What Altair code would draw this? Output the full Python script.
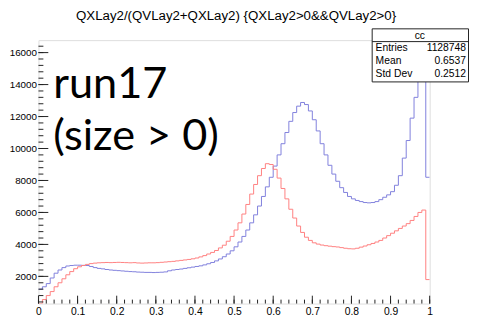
import altair as alt
import pandas as pd

# ---- data ----
bin_width = 0.01
blue_counts = [
    1200, 1350, 1550, 1900, 2200, 2400, 2550, 2650, 2680, 2700,
    2700, 2690, 2680, 2620, 2550, 2500, 2470, 2430, 2400, 2380,
    2360, 2340, 2320, 2300, 2290, 2270, 2260, 2250, 2250, 2240,
    2250, 2260, 2280, 2350, 2400, 2430, 2460, 2500, 2540, 2580,
    2620, 2660, 2720, 2790, 2870, 2970, 3090, 3230, 3400, 3600,
    3850, 4150, 4500, 4900, 5350, 5850, 6400, 7000, 7600, 8200,
    8900, 9600, 10300, 11000, 11700, 12250, 12650, 12880, 12750, 12350,
    11800, 11100, 10300, 9600, 8950, 8400, 7950, 7550, 7250, 7000,
    6850, 6750, 6680, 6620, 6600, 6620, 6680, 6800, 6950, 7100,
    7300, 7700, 8300, 9400, 10500, 11900, 13200, 14600, 16000, 8200,
]
red_counts = [
    300, 550, 800, 1050, 1350, 1600, 1850, 2100, 2300, 2480,
    2600, 2680, 2750, 2800, 2830, 2850, 2860, 2870, 2860, 2870,
    2880, 2870, 2860, 2850, 2860, 2840, 2830, 2840, 2850, 2850,
    2860, 2880, 2900, 2920, 2940, 2970, 3000, 3030, 3060, 3100,
    3150, 3220, 3300, 3400, 3500, 3620, 3780, 3950, 4200, 4500,
    4900, 5350, 5900, 6500, 7150, 7750, 8300, 8750, 9050, 9000,
    8700, 8150, 7500, 6850, 6200, 5650, 5150, 4750, 4450, 4250,
    4100, 4020, 3960, 3920, 3890, 3860, 3840, 3800, 3760, 3730,
    3720, 3760, 3830, 3900, 3980, 4060, 4150, 4250, 4400, 4550,
    4700, 4850, 5000, 5150, 5300, 5500, 5750, 6000, 6150, 1800,
]
x_major_ticks = [0, 0.1, 0.2, 0.3, 0.4, 0.5, 0.6, 0.7, 0.8, 0.9, 1.0]
x_minor_ticks = [round(i * 0.02, 2) for i in range(51)]
y_major_ticks = [2000, 4000, 6000, 8000, 10000, 12000, 14000, 16000]
y_minor_ticks = [400 * i for i in range(1, 42)]
stats_labels = ["Entries", "Mean", "Std Dev"]
stats_values = ["1128748", "0.6537", "0.2512"]
title_text = "QXLay2/(QVLay2+QXLay2) {QXLay2>0&&QVLay2>0}"

# ---- layout ----
W, H = 398, 268
Y_MIN, Y_MAX = 300, 16780
FONT = "Liberation Sans"


def step_frame(counts):
    n = len(counts)
    xs = [round(i * bin_width, 4) for i in range(n)] + [1.0]
    ys = list(counts) + [counts[-1]]
    return pd.DataFrame({"x": xs, "y": ys})


xscale = alt.Scale(domain=[0, 1], nice=False, zero=False)
yscale = alt.Scale(domain=[Y_MIN, Y_MAX], nice=False, zero=False)

x_axis = alt.Axis(values=x_major_ticks, format=".1~f", title=None, domain=False,
                  ticks=False, grid=False, labelFont=FONT, labelFontSize=10.5,
                  labelColor="black", labelPadding=3, labelOverlap=False,
                  labelFlush=False)
y_axis = alt.Axis(values=y_major_ticks, format="d", title=None, domain=False,
                  ticks=False, grid=False, labelFont=FONT, labelFontSize=10,
                  labelColor="black", labelPadding=2, labelOverlap=False)


def X(field):
    return alt.X(field, scale=xscale, axis=x_axis)


def Y(field):
    return alt.Y(field, scale=yscale, axis=y_axis)


blue = alt.Chart(step_frame(blue_counts)).mark_line(
    interpolate="step-after", color="#7f7fdc", strokeWidth=1, clip=True
).encode(x=X("x:Q"), y=Y("y:Q"))

red = alt.Chart(step_frame(red_counts)).mark_line(
    interpolate="step-after", color="#ff7f7f", strokeWidth=1, clip=True
).encode(x=X("x:Q"), y=Y("y:Q"))

tick_color = "#222222"
xmaj = alt.Chart(pd.DataFrame({"t": x_major_ticks})).mark_rule(color=tick_color, strokeWidth=1).encode(
    x=X("t:Q"), y=alt.value(H), y2=alt.value(H - 8))
xmin = alt.Chart(pd.DataFrame({"t": x_minor_ticks})).mark_rule(color=tick_color, strokeWidth=1).encode(
    x=X("t:Q"), y=alt.value(H), y2=alt.value(H - 4))
ymaj = alt.Chart(pd.DataFrame({"t": y_major_ticks})).mark_rule(color=tick_color, strokeWidth=1).encode(
    y=Y("t:Q"), x=alt.value(0), x2=alt.value(10))
ymin = alt.Chart(pd.DataFrame({"t": [v for v in y_minor_ticks if Y_MIN < v < Y_MAX]})).mark_rule(
    color=tick_color, strokeWidth=1).encode(
    y=Y("t:Q"), x=alt.value(0), x2=alt.value(5))

one = pd.DataFrame({"a": [0]})

# title as text
title = alt.Chart(one).mark_text(font=FONT, fontSize=13.5, color="black",
                                 align="center", baseline="alphabetic").encode(
    x=alt.value(201), y=alt.value(-20), text=alt.value(title_text))

# stats box
box = alt.Chart(one).mark_rect(fill="white", stroke="#222222", strokeWidth=1).encode(
    x=alt.value(339.5), x2=alt.value(437.5), y=alt.value(-11.5), y2=alt.value(42.5))
box_line = alt.Chart(one).mark_rule(color="#222222", strokeWidth=1).encode(
    x=alt.value(339.5), x2=alt.value(437.5), y=alt.value(1.5))
box_title = alt.Chart(one).mark_text(font=FONT, fontSize=10.5, color="black",
                                     align="center", baseline="middle").encode(
    x=alt.value(388), y=alt.value(-4.5), text=alt.value("cc"))
stat_layers = []
row_pos = [8.5, 21.5, 34.5]
for lab, val, py in zip(stats_labels, stats_values, row_pos):
    stat_layers.append(alt.Chart(one).mark_text(font=FONT, fontSize=10.5, color="black",
                                                align="left", baseline="middle").encode(
        x=alt.value(343), y=alt.value(py), text=alt.value(lab)))
    stat_layers.append(alt.Chart(one).mark_text(font=FONT, fontSize=10.5, color="black",
                                                align="right", baseline="middle").encode(
        x=alt.value(435), y=alt.value(py), text=alt.value(val)))

# big annotation
ann1 = alt.Chart(one).mark_text(font="Lato", fontSize=44, color="black",
                                align="left", baseline="alphabetic").encode(
    x=alt.value(15), y=alt.value(59), text=alt.value("run17"))
ann2 = alt.Chart(one).mark_text(font="Lato", fontSize=44, color="black",
                                align="left", baseline="alphabetic").encode(
    x=alt.value(15), y=alt.value(112), text=alt.value("(size > 0)"))

chart = alt.layer(
    blue, red, xmaj, xmin, ymaj, ymin, title, box, box_line, box_title, *stat_layers, ann1, ann2
).properties(
    width=W, height=H,
    autosize=alt.AutoSizeParams(type="none"),
    padding={"left": 31, "top": 30, "right": 40, "bottom": 12},
).configure_view(stroke="#222222", strokeWidth=1).configure(background="white")

chart.save("out.html", embed_options={"renderer": "svg", "actions": False})
